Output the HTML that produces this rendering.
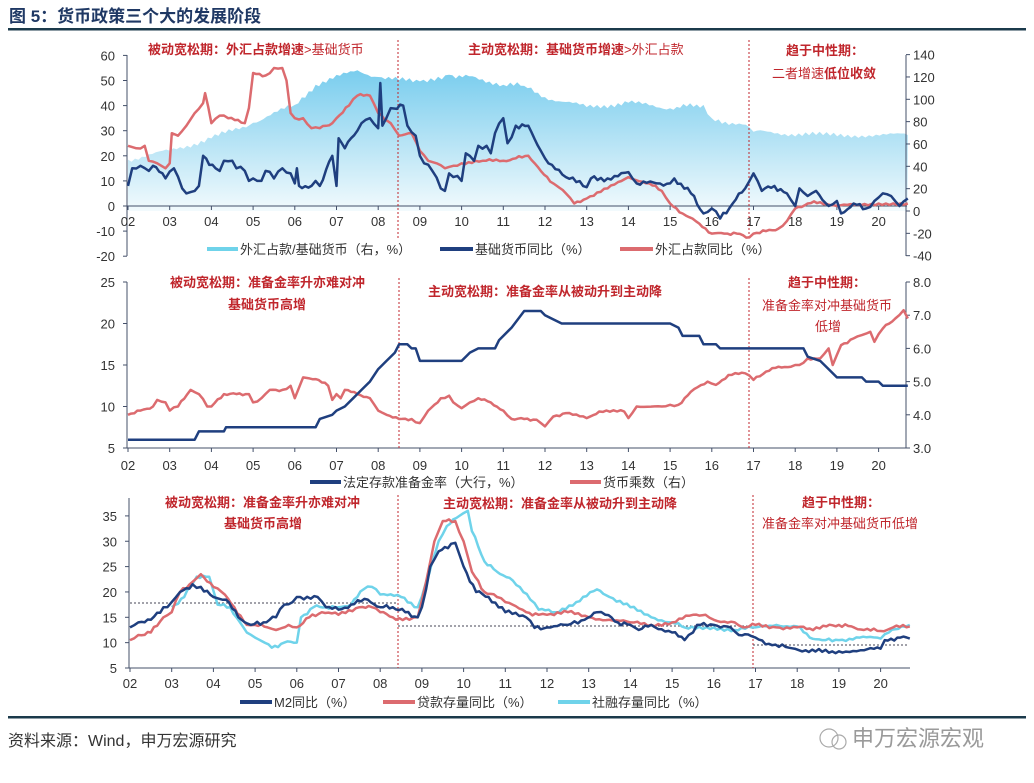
<!DOCTYPE html>
<html><head><meta charset="utf-8">
<style>
html,body{margin:0;padding:0;background:#fff;}
body{width:1034px;height:783px;overflow:hidden;position:relative;font-family:"Liberation Sans","Noto Sans CJK SC",sans-serif;}
svg{position:absolute;left:0;top:0;}
</style></head>
<body>
<svg id="s" width="1034" height="783" xmlns="http://www.w3.org/2000/svg" font-family="Liberation Sans, Noto Sans CJK SC, sans-serif">
<defs>
<linearGradient id="ag" x1="0" y1="0" x2="0" y2="1">
<stop offset="0" stop-color="#79cdee"/><stop offset="0.5" stop-color="#b5e3f5"/><stop offset="1" stop-color="#f2fafd"/>
</linearGradient>
</defs>
<text x="9" y="22" font-size="17" font-weight="bold" fill="#1f3864">图 5：货币政策三个大的发展阶段</text>
<rect x="8" y="28" width="1018" height="2.5" fill="#1b3a4b"/>
<rect x="8" y="716" width="1018" height="2.5" fill="#1b3a4b"/>
<text x="8" y="746" font-size="16" fill="#333">资料来源：Wind，申万宏源研究</text>
<text x="852" y="746" font-size="22" fill="#9a9a9a">申万宏源宏观</text>
<circle cx="829" cy="738" r="9" fill="none" stroke="#aaa" stroke-width="1.2"/>
<circle cx="839" cy="742" r="7" fill="none" stroke="#aaa" stroke-width="1.2"/>
<g id="g"></g>
</svg>
<script>
const g=document.getElementById('g');let h='';
const RED='#c0262c',DK='#1f3f7f',PK='#dc6b6f',CY='#6fd3ea',AX='#44506a';
function X(t,x0){return x0+(t-2002)*41.7;}
function poly(pts,fx,fy,col,w){let d=pts.map((p,i)=>(i?'L':'M')+fx(p[0]).toFixed(1)+' '+fy(p[1]).toFixed(1)).join('');h+=`<path d="${d}" fill="none" stroke="${col}" stroke-width="${w}" stroke-linejoin="round"/>`;}
function P(a){let r=[];for(let i=0;i<a.length;i+=2)r.push([2000+a[i],a[i+1]]);return r;}
function jag(pts,amp,seed){let r=[];for(let i=0;i<pts.length-1;i++){let [t0,v0]=pts[i],[t1,v1]=pts[i+1];let n=Math.max(1,Math.round((t1-t0)*12));for(let k=0;k<n;k++){let f=k/n;let t=t0+(t1-t0)*f;let v=v0+(v1-v0)*f+(k?amp*Math.sin(t*53.7+seed)*Math.sin(t*17.3+seed*2):0);r.push([t,v]);}}r.push(pts[pts.length-1]);return r;}
function txt(x,y,s,o={}){h+=`<text x="${x}" y="${y}" font-size="${o.fs||12}" fill="${o.c||'#333'}" ${o.a?'text-anchor="'+o.a+'"':''} ${o.b?'font-weight="bold"':''}>${s}</text>`;}
function line(x1,y1,x2,y2,c,w,da){h+=`<line x1="${x1}" y1="${y1}" x2="${x2}" y2="${y2}" stroke="${c}" stroke-width="${w}" ${da?'stroke-dasharray="'+da+'"':''}/>`;}
function years(x0,y,ty){for(let i=0;i<19;i++){let yr=(i+2)%100;let s=(yr<10?'0':'')+yr;let x=X(2002+i,x0);line(x,y,x,y+4,AX,1);txt(x,ty,s,{a:'middle',fs:13});}}

/* ===== Chart 1 ===== */
const x1=128,L1=v=>206-v*2.51,R1=v=>211-v*1.117,X1=t=>X(t,x1);
let area=jag(P([2,46,3,54,4,65,5,79,6,95,6.5,113,7.5,126,8,120,8.5,117,9,116,9.7,122,10.5,118,11,113,11.5,112,12,102,13,93,14,97,15,92,15.8,95,16,83,16.9,75,17,71,18.5,68,20.7,68]),3,1);
let ad='M'+X1(2002)+' '+R1(0)+area.map(p=>'L'+X1(p[0]).toFixed(1)+' '+R1(p[1]).toFixed(1)).join('')+'L'+X1(2020.7)+' '+R1(0)+'Z';
h+=`<path d="${ad}" fill="url(#ag)"/>`;
line(127,55,127,256,AX,1);line(127,206,907,206,AX,1);line(906,55,906,256,AX,1);
for(let v=-20;v<=60;v+=10){line(123,L1(v),127,L1(v),AX,1);txt(115,L1(v)+5,v,{a:'end',fs:13});}
for(let v=-40;v<=140;v+=20){line(906,R1(v),910,R1(v),AX,1);txt(913,R1(v)+5,v,{fs:13});}
years(x1,206,226);
line(398,40,398,240,'#c0262c',1,'2,2');line(749,40,749,240,'#c0262c',1,'2,2');
poly(jag(P([2,24,2.2,23,2.4,24,2.5,18,2.7,17,2.9,15,3.0,17,3.05,29,3.2,28,3.4,32,3.6,37,3.8,41,3.85,45,4.0,33,4.2,36,4.4,35,4.8,33,4.9,39,5.0,53,5.3,52,5.5,55,5.7,55,5.8,50,5.9,37,6.0,35,6.2,35,6.4,31,6.6,31,6.9,33,7.0,35,7.3,40,7.5,44,7.8,44,8.0,37,8.3,33,8.5,28,8.8,29,9.0,22,9.2,18,9.4,17,9.6,15,9.8,16,10.0,17,10.5,18,11.0,18,11.3,19,11.6,20,11.9,14,12.2,9,12.5,5,12.7,1,13.0,3,13.5,7,14.0,11.5,14.5,9,14.8,6,15.0,1,15.3,-3,15.7,-7,16.0,-11,16.3,-11,16.6,-11,16.9,-12.5,17.0,-11,17.3,-10,17.6,-9,17.8,-6,18.0,-1,18.3,1,18.6,1.5,19,0,19.5,0.5,20,1,20.7,1]),0.6,2),X1,L1,PK,2.5);
poly(jag(P([2,8,2.1,15,2.3,16,2.5,14,2.6,16,2.9,11,3.1,15,3.3,7,3.4,5,3.6,6,3.7,8,3.8,20,4.1,15,4.2,14,4.3,18,4.5,18,4.6,15,4.8,14,4.9,10,5,11,5.2,10,5.3,14,5.5,11,5.7,15,5.9,13,6,9,6.05,15,6.1,8,6.4,8,6.5,10,6.6,8,6.9,20,7,8,7.05,27,7.2,23,7.5,30,7.6,33,7.8,35,8,31,8.05,49,8.1,32,8.3,39,8.6,40,8.7,32,8.9,28,9,20,9.1,17,9.3,14,9.5,7,9.6,6,9.7,13,9.9,12,10,10,10.1,21,10.3,18,10.4,24,10.6,24,10.7,21,10.8,29,11,35,11.1,25,11.3,32,11.6,32,11.9,22,12.0,19,12.5,11.5,13.0,7.5,13.1,11,13.5,11,14,13.5,14.2,9,15,9,15.1,11,15.5,5,15.8,-3,16.0,-1,16.2,-5,16.5,1,16.8,7,17.0,13,17.2,6,17.5,8,17.8,5,18.0,0,18.1,7,18.3,4,18.5,6,18.8,0,19.0,2,19.1,-3,19.4,1,19.7,-1,19.9,2,20.1,5,20.3,4,20.5,0,20.7,3]),1.2,5),X1,L1,DK,2.5);
txt(148,54,'<tspan font-weight="bold">被动宽松期：外汇占款增速</tspan>&gt;基础货币',{c:RED,fs:13});
txt(468,54,'<tspan font-weight="bold">主动宽松期：基础货币增速</tspan>&gt;外汇占款',{c:RED,fs:13});
txt(786,55,'趋于中性期：',{c:RED,fs:13,b:1});
txt(772,78,'二者增速<tspan font-weight="bold">低位收敛</tspan>',{c:RED,fs:13});
line(207,249,238,249,CY,4);txt(240,254,'外汇占款/基础货币（右，%）',{fs:13});
line(440,249,473,249,DK,4);txt(475,254,'基础货币同比（%）',{fs:13});
line(620,249,653,249,PK,4);txt(655,254,'外汇占款同比（%）',{fs:13});

/* ===== Chart 2 ===== */
const L2=v=>448-(v-5)*8.3,R2=v=>282+(8-v)*33.2;
line(127,282,127,448,AX,1);line(127,448,907,448,AX,1);line(906,282,906,448,AX,1);
for(let v=5;v<=25;v+=5){line(123,L2(v),127,L2(v),AX,1);txt(115,L2(v)+5,v,{a:'end',fs:13});}
for(let v=3;v<=8;v++){line(906,R2(v),910,R2(v),AX,1);txt(913,R2(v)+5,v.toFixed(1),{fs:13});}
years(x1,448,470);
line(399,278,399,450,'#c0262c',1,'2,2');line(749,278,749,450,'#c0262c',1,'2,2');
let redL=P([2,9,2.3,9.5,2.6,10,2.7,10.8,2.9,10.5,3.0,9.5,3.2,10,3.5,12,3.7,11.5,3.9,10,4.0,10,4.3,11.5,4.6,11.5,4.9,11.5,5.0,10.5,5.2,11,5.4,12,5.7,12,5.9,12.5,6.0,11,6.2,13.5,6.5,13.3,6.8,12.5,6.9,10.8,7.0,11.5,7.1,11,7.2,12,7.5,11.5,7.8,11,8.0,9.5,8.2,9,8.5,8.5,8.8,8.5,9.0,8,9.2,9.5,9.5,11,9.7,11.3,9.8,10.5,10.0,9.8,10.2,10.5,10.4,11,10.7,10.5,11.0,9.5,11.2,8.5,11.5,8.5,11.8,8.4]).map(p=>[p[0],3+(p[1]-5)/4]);
let redR=redL.concat(P([12.0,3.65,12.2,3.95,12.5,4.05,13.0,3.9,13.3,4.1,13.9,4.1,14.0,3.9,14.2,4.25,14.8,4.25,15.0,4.3,15.2,4.3,15.5,4.7,15.9,5.0,16.1,4.9,16.4,5.2,16.8,5.25,17.0,5.05,17.3,5.3,17.6,5.45,17.9,5.45,18.0,5.5,18.1,5.5,18.3,5.7,18.6,5.7,18.8,6.0,18.9,5.5,19.1,6.1,19.4,6.3,19.6,6.4,19.8,6.5,19.9,6.2,20.1,6.6,20.4,6.9,20.6,7.15,20.7,6.9]));
poly(jag(redR,0.04,3),X1,R2,PK,2.5);
poly(P([2,6,3.6,6,3.7,7,4.3,7,4.35,7.5,6.5,7.5,6.6,8.5,6.9,9,7.0,9.5,7.2,10,7.4,11,7.6,12,7.8,13,8.0,14.5,8.2,15.5,8.4,16.5,8.5,17.5,8.7,17.5,8.8,17,8.9,17,9.0,15.5,10.0,15.5,10.1,16,10.2,16.5,10.4,17,10.8,17,10.9,18,11.2,19.5,11.5,21.5,11.9,21.5,12.0,21,12.2,20.5,12.4,20,15.0,20,15.2,19.5,15.3,18.5,15.7,18.5,15.8,17.5,16.1,17.5,16.2,17,18.2,17,18.3,16,18.6,15.5,18.8,14.5,19.0,13.5,19.6,13.5,19.7,13,20.0,13,20.1,12.5,20.7,12.5]),X1,L2,DK,2.5);
txt(170,287,'被动宽松期：准备金率升亦难对冲',{c:RED,fs:13,b:1});
txt(228,309,'基础货币高增',{c:RED,fs:13,b:1});
txt(428,296,'主动宽松期：准备金率从被动升到主动降',{c:RED,fs:13,b:1});
txt(788,287,'趋于中性期：',{c:RED,fs:13,b:1});
txt(762,310,'准备金率对冲基础货币',{c:RED,fs:13});
txt(815,331,'低增',{c:RED,fs:13});
line(310,482,341,482,DK,4);txt(343,487,'法定存款准备金率（大行，%）',{fs:13});
line(570,482,601,482,PK,4);txt(603,487,'货币乘数（右）',{fs:13});

/* ===== Chart 3 ===== */
const x3=130,L3=v=>668-(v-5)*5.07,X3=t=>X(t,x3);
line(129,498,129,668,AX,1);line(129,668,910,668,AX,1);
for(let v=5;v<=35;v+=5){line(125,L3(v),129,L3(v),AX,1);txt(117,L3(v)+5,v,{a:'end',fs:13});}
years(x3,668,688);
line(398,495,398,668,'#c0262c',1,'2,2');line(753,495,753,668,'#c0262c',1,'2,2');
line(130,603,398,603,'#445',1,'2,2');line(398,626,753,626,'#445',1,'2,2');line(753,645,907,645,'#445',1,'2,2');
poly(jag(P([3.0,17,3.3,19,3.6,23,3.9,23,4.1,17.5,4.4,17,4.8,12,5.0,11,5.4,9,5.7,10,6.0,10,6.1,15,6.4,17,6.7,17,7.0,17,7.3,17.5,7.6,20.5,7.8,21,8.0,19.5,8.5,19,8.9,17,9.1,22,9.4,30,9.6,33,9.9,35,10.1,36,10.2,32,10.5,26,10.8,24,11.1,22.8,11.6,18.5,11.8,16.5,12.2,16,12.7,18,13.2,20.5,13.5,19,14.0,17,14.5,15,15.0,14,15.3,13,16.0,13,16.5,12.5,17.0,13,17.5,13.5,18.0,13.2,18.3,11,18.6,10.5,19.0,10.5,19.5,11,20.0,10.8,20.2,12,20.5,13.2,20.7,13.5]),0.4,7),X3,L3,CY,2.5);
poly(jag(P([2,10.5,2.2,11.5,2.5,12,2.8,15,3.0,16,3.2,20,3.5,22,3.7,23.5,4.0,21,4.2,20,4.5,17,4.8,13.5,5.0,13.5,5.3,13,5.5,12.5,5.8,13.5,6.0,13,6.3,15,6.6,16,7.0,15.5,7.5,17,7.8,17,8.0,16,8.3,15,8.7,14.5,8.9,15,9.1,22,9.3,30,9.5,34,9.8,34,10.0,30,10.2,24,10.5,20,10.8,19,11.0,18,11.5,16,11.8,15.5,12.0,15.5,12.5,16,13.0,15,13.5,14.5,14.0,14,14.5,13.5,15.0,14,15.5,15.5,15.8,15.5,16.0,14.5,16.5,14,16.7,13,17.0,13.5,17.5,13,18.0,13,18.3,12.8,18.7,13.2,19.0,13.5,19.3,13.2,19.6,12.5,20.0,12.3,20.3,13,20.7,13.2]),0.4,9),X3,L3,PK,2.5);
poly(jag(P([2,13,2.2,14,2.5,14.5,2.8,17,3.0,18,3.2,20,3.5,21.5,3.7,21,4.0,19,4.3,18.5,4.6,15,4.9,13.5,5.2,14,5.5,15,5.7,17.5,5.9,18,6.0,19,6.5,19,6.7,17,7.0,16.5,7.3,17.5,7.7,18.5,8.0,17,8.3,17,8.6,16,8.9,15,9.0,17,9.2,25,9.4,28,9.7,29.5,9.8,29.7,10.0,25,10.3,20,10.6,19,11.0,16,11.5,15,11.7,12.9,12.0,13,12.5,13.5,12.9,14.5,13.2,16,13.4,15.5,13.7,14,14.0,13.5,14.2,12.5,14.5,13.5,15.0,12,15.3,10.5,15.5,12,15.6,13.5,16.0,13.5,16.4,13,16.6,11.5,16.9,11.3,17.0,11,17.4,9.5,17.8,9,18.2,8.5,18.6,8.2,19.0,8.3,19.6,8.5,20.0,8.8,20.1,10.5,20.4,11,20.7,10.8]),0.5,11),X3,L3,DK,2.5);
txt(165,507,'被动宽松期：准备金率升亦难对冲',{c:RED,fs:13,b:1});
txt(224,528,'基础货币高增',{c:RED,fs:13,b:1});
txt(443,508,'主动宽松期：准备金率从被动升到主动降',{c:RED,fs:13,b:1});
txt(802,507,'趋于中性期：',{c:RED,fs:13,b:1});
txt(762,528,'准备金率对冲基础货币低增',{c:RED,fs:13});
line(240,702,272,702,DK,4);txt(274,707,'M2同比（%）',{fs:13});
line(383,702,415,702,PK,4);txt(417,707,'贷款存量同比（%）',{fs:13});
line(558,702,590,702,CY,4);txt(592,707,'社融存量同比（%）',{fs:13});
g.innerHTML=h;
</script>
</body></html>
